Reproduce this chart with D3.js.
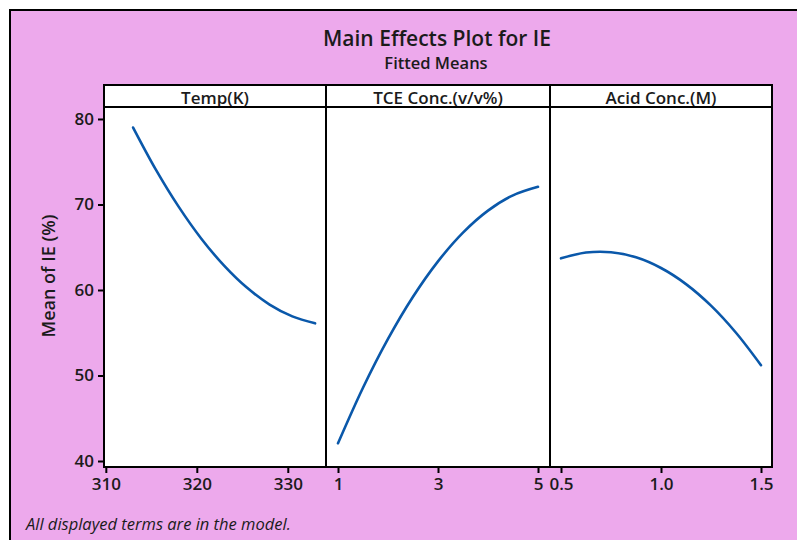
<!DOCTYPE html>
<html>
<head>
<meta charset="utf-8">
<script src="https://cdn.jsdelivr.net/npm/d3@7"></script>
<style>
  html, body { margin: 0; padding: 0; background: #ffffff; }
  svg { display: block; }
  text { font-family: "Open Sans", "Noto Sans", sans-serif; fill: #1b1b1b; }
</style>
</head>
<body>
<svg id="chart" width="797" height="540"></svg>
<script>
// Fitted means for each factor (IE %)
const tempLevels = [313, 315.5, 318, 320.5, 323, 325.5, 328, 330.5, 333];
const tempMeans  = [79.00, 74.08, 69.75, 66.00, 62.85, 60.28, 58.30, 56.91, 56.10];

const tceLevels = [1, 1.5, 2, 2.5, 3, 3.5, 4, 4.5, 5];
const tceMeans  = [42.07, 48.57, 54.28, 59.21, 63.35, 66.71, 69.28, 71.07, 72.07];

const acidLevels = [0.5, 0.625, 0.75, 0.875, 1.0, 1.125, 1.25, 1.375, 1.5];
const acidMeans  = [63.70, 64.38, 64.42, 63.82, 62.57, 60.69, 58.17, 55.00, 51.20];

const panelTitles = ["Temp(K)", "TCE Conc.(v/v%)", "Acid Conc.(M)"];
const xDomains = [[309.8, 334.2], [0.76, 5.24], [0.445, 1.555]];
const xTicks = [[310, 320, 330], [1, 3, 5], [0.5, 1.0, 1.5]];
const xTickFormats = [d3.format("d"), d3.format("d"), d3.format(".1f")];
const yTicks = [40, 50, 60, 70, 80];

const series = [
  { x: tempLevels, y: tempMeans },
  { x: tceLevels, y: tceMeans },
  { x: acidLevels, y: acidMeans }
];

const svg = d3.select("#chart");

// background with frame
svg.append("rect").attr("x", 10).attr("y", 10).attr("width", 787).attr("height", 530)
  .attr("fill", "#eda9ec");
svg.append("path").attr("d", "M10,540 V10 H797")
  .attr("fill", "none").attr("stroke", "#000").attr("stroke-width", 2);

// titles
svg.append("text").attr("x", 437).attr("y", 46).attr("text-anchor", "middle")
  .attr("font-size", 21).attr("font-weight", 600).text("Main Effects Plot for IE");
svg.append("text").attr("x", 436).attr("y", 69).attr("text-anchor", "middle")
  .attr("font-size", 16.5).attr("font-weight", 600).text("Fitted Means");

const panelTop = 107, panelBottom = 467, stripTop = 85;
const edges = [104, 326, 550, 772];

const y = d3.scaleLinear().domain([39.3, 81.4]).range([panelBottom, panelTop]);

const line = d3.line().curve(d3.curveCatmullRom.alpha(0.5));

edges.slice(0, 3).forEach((x0, i) => {
  const x1 = edges[i + 1];
  const xs = d3.scaleLinear().domain(xDomains[i]).range([x0, x1]);

  // panel body
  svg.append("rect").attr("x", x0).attr("y", panelTop).attr("width", x1 - x0).attr("height", panelBottom - panelTop)
    .attr("fill", "#ffffff");
  // header strip
  svg.append("rect").attr("x", x0).attr("y", stripTop).attr("width", x1 - x0).attr("height", panelTop - stripTop)
    .attr("fill", "#ffffff").attr("stroke", "#000").attr("stroke-width", 2);
  svg.append("text").attr("x", (x0 + x1) / 2).attr("y", 103.5).attr("text-anchor", "middle")
    .attr("font-size", 17).attr("font-weight", 600).text(panelTitles[i]);

  // fitted curve
  const s = series[i];
  svg.append("path")
    .attr("d", line(s.x.map((v, k) => [xs(v), y(s.y[k])])))
    .attr("fill", "none").attr("stroke", "#0a58aa").attr("stroke-width", 2.6)
    .attr("stroke-linecap", "round");

  // x axis
  const ax = svg.append("g").attr("transform", `translate(0,${panelBottom})`)
    .call(d3.axisBottom(xs).tickValues(xTicks[i]).tickFormat(xTickFormats[i]).tickSize(6).tickPadding(5));
  ax.select(".domain").remove();
  ax.selectAll(".tick line").attr("stroke", "#000").attr("stroke-width", 2);
  ax.selectAll(".tick text").attr("font-size", 17).attr("fill", "#1b1b1b")
    .attr("font-family", "'Open Sans', sans-serif").attr("font-weight", 600);

  // panel frame
  svg.append("rect").attr("x", x0).attr("y", panelTop).attr("width", x1 - x0).attr("height", panelBottom - panelTop)
    .attr("fill", "none").attr("stroke", "#000").attr("stroke-width", 2);
});

// y axis
const ay = svg.append("g").attr("transform", `translate(${edges[0]},0)`)
  .call(d3.axisLeft(y).tickValues(yTicks).tickSize(6).tickPadding(4));
ay.select(".domain").remove();
ay.selectAll(".tick line").attr("stroke", "#000").attr("stroke-width", 2);
ay.selectAll(".tick text").attr("font-size", 17).attr("fill", "#1b1b1b")
  .attr("font-family", "'Open Sans', sans-serif").attr("font-weight", 600);

svg.append("text").attr("transform", "translate(55,276) rotate(-90)")
  .attr("text-anchor", "middle").attr("font-size", 18).attr("font-weight", 600)
  .text("Mean of IE (%)");

// footnote
svg.append("text").attr("x", 26).attr("y", 530)
  .attr("font-size", 16.5).attr("font-style", "italic").attr("fill", "#2a2a2a")
  .text("All displayed terms are in the model.");
</script>
</body>
</html>
